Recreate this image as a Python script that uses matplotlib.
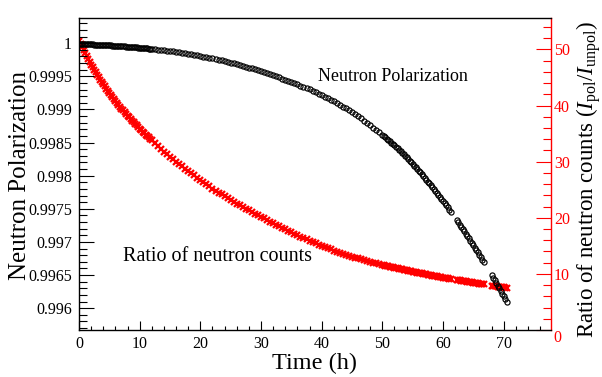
import numpy as np
import matplotlib
matplotlib.use("Agg")
from matplotlib import pyplot as plt
from matplotlib.ticker import MultipleLocator, FuncFormatter

plt.rcParams['font.family'] = 'Liberation Serif'
plt.rcParams['mathtext.fontset'] = 'custom'
plt.rcParams['mathtext.rm'] = 'Liberation Serif'
plt.rcParams['mathtext.it'] = 'Liberation Serif:italic'

nan = np.nan

# measurement times (h): 15 min early, 30 min in the middle, 15 min late
hours = np.concatenate([np.arange(0, 12, 0.25),
                        np.arange(12, 50, 0.5),
                        np.arange(50, 70.51, 0.25)])

# neutron polarization (left axis)
pol_early = [
    0.999990, 0.999989, 0.999988, 0.999987, 0.999986, 0.999985, 0.999984, 0.999983,
    0.999981, 0.999980, 0.999979, 0.999977, 0.999976, 0.999975, 0.999974, 0.999972,
    0.999971, 0.999970, 0.999969, 0.999967, 0.999966, 0.999965, 0.999963, 0.999962,
    0.999960, 0.999959, 0.999957, 0.999956, 0.999954, 0.999952, 0.999951, 0.999949,
    0.999947, 0.999945, 0.999944, 0.999942, 0.999940, 0.999938, 0.999936, 0.999934,
    0.999932, 0.999930, 0.999928, 0.999926, 0.999924, 0.999921, 0.999919, 0.999917,
]
pol_mid = [
    0.999914, 0.999909, 0.999904, 0.999899, 0.999893, 0.999887,
    0.999881, 0.999875, 0.999868, 0.999861, 0.999854, 0.999847, 0.999839, 0.999831, 0.999823, 0.999815,
    0.999806, 0.999798, 0.999789, 0.999780, 0.999770, 0.999760, 0.999750, 0.999740, 0.999729, 0.999718,
    0.999707, 0.999695, 0.999683, 0.999671, 0.999659, 0.999646, 0.999632, 0.999619, 0.999605, 0.999591,
    0.999576, 0.999561, 0.999546, 0.999531, 0.999515, 0.999499, 0.999483, 0.999466, 0.999449, 0.999432,
    0.999414, 0.999396, 0.999378, 0.999359, 0.999340, 0.999321, 0.999301, 0.999281, 0.999260, 0.999239,
    0.999217, 0.999194, 0.999171, 0.999147, 0.999122, 0.999096, 0.999070, 0.999043, 0.999015, 0.998986,
    0.998957, 0.998926, 0.998895, 0.998863, 0.998830, 0.998796, 0.998762, 0.998726, 0.998690, 0.998653,
]
pol_late = [
    0.998616, 0.998597, 0.998577, 0.998557, 0.998537, 0.998517, 0.998497, 0.998477,
    0.998456, 0.998434, 0.998412, 0.998390, 0.998367, 0.998345, 0.998322, 0.998299,
    0.998276, 0.998251, 0.998226, 0.998201, 0.998176, 0.998151, 0.998126, 0.998101,
    0.998076, 0.998049, 0.998021, 0.997994, 0.997966, 0.997939, 0.997911, 0.997884,
    0.997856, 0.997826, 0.997796, 0.997766, 0.997736, 0.997706, 0.997676, 0.997646,
    0.997616, 0.997584, 0.997552, 0.997520, 0.997488, 0.997457, nan, nan,
    nan, 0.997327, 0.997294, 0.997260, 0.997226, 0.997192, 0.997158, 0.997125,
    0.997091, 0.997055, 0.997020, 0.996984, 0.996948, 0.996913, 0.996877, 0.996842,
    0.996806, 0.996768, 0.996730, 0.996692, nan, nan, nan, nan,
    0.996501, 0.996460, 0.996420, 0.996379, 0.996338, 0.996298, 0.996257, 0.996217,
    0.996176, 0.996133, 0.996091,
]

# ratio of neutron counts I_pol / I_unpol (right axis)
ratio_early = [
    51.5, 50.92, 50.35, 49.81, 49.28, 48.77, 48.26, 47.78,
    47.3, 46.83, 46.37, 45.92, 45.48, 45.05, 44.62, 44.21,
    43.8, 43.4, 43.01, 42.63, 42.25, 41.88, 41.51, 41.15,
    40.8, 40.46, 40.12, 39.79, 39.46, 39.14, 38.82, 38.51,
    38.2, 37.9, 37.6, 37.31, 37.02, 36.73, 36.45, 36.17,
    35.9, 35.63, 35.36, 35.09, 34.83, 34.57, 34.31, 34.05,
]
ratio_mid = [
    33.8, 33.29, 32.79, 32.29, 31.8, 31.34,
    30.89, 30.44, 30.0, 29.58, 29.16, 28.75, 28.35, 27.95, 27.55, 27.15,
    26.75, 26.36, 25.97, 25.58, 25.2, 24.85, 24.5, 24.15, 23.8, 23.48,
    23.15, 22.83, 22.5, 22.2, 21.9, 21.6, 21.3, 21.01, 20.73, 20.44,
    20.15, 19.88, 19.6, 19.33, 19.05, 18.78, 18.5, 18.23, 17.95, 17.68,
    17.42, 17.15, 16.88, 16.63, 16.38, 16.13, 15.88, 15.66, 15.43, 15.21,
    14.98, 14.77, 14.57, 14.36, 14.15, 13.96, 13.78, 13.59, 13.4, 13.24,
    13.08, 12.91, 12.75, 12.6, 12.45, 12.3, 12.15, 12.01, 11.88, 11.74,
]
ratio_late = [
    11.6, 11.54, 11.48, 11.41, 11.35, 11.29, 11.23, 11.16,
    11.1, 11.04, 10.98, 10.92, 10.86, 10.8, 10.74, 10.68,
    10.62, 10.56, 10.51, 10.45, 10.4, 10.34, 10.28, 10.23,
    10.17, 10.12, 10.07, 10.01, 9.96, 9.91, 9.86, 9.8,
    9.75, 9.7, 9.65, 9.6, 9.55, 9.5, 9.45, 9.4,
    9.35, 9.3, 9.26, 9.21, 9.16, 9.11, nan, nan,
    nan, 8.92, 8.88, 8.83, 8.79, 8.74, 8.69, 8.65,
    8.6, 8.56, 8.51, 8.47, 8.43, 8.38, 8.34, 8.29,
    8.25, 8.21, 8.17, 8.12, nan, nan, nan, nan,
    7.91, 7.87, 7.83, 7.79, 7.75, 7.71, 7.67, 7.62,
    7.58, 7.54, 7.5,
]

polarization = np.array(pol_early + pol_mid + pol_late)
ratio = np.array(ratio_early + ratio_mid + ratio_late)

fig = plt.figure(figsize=(6.02, 3.77), dpi=100)
ax = fig.add_axes([79 / 602, 47 / 377, 472 / 602, 312 / 377])
ax2 = ax.twinx()
# polarization circles drawn over the red ratio markers
ax.set_zorder(2)
ax2.set_zorder(1)
ax.patch.set_visible(False)

ax2.plot(hours, ratio, ls='none', marker='x', ms=4.3, mec='red', mew=1.6)
ax.plot(hours, polarization, ls='none', marker='o', ms=3.7, mfc='none',
        mec='black', mew=0.85)

ax.set_xlim(0, 77.8)
ax.set_ylim(0.99567, 1.00038)
ax2.set_ylim(0, 55.6)

ax.xaxis.set_major_locator(MultipleLocator(10))
ax.xaxis.set_minor_locator(MultipleLocator(2))
ax.yaxis.set_major_locator(MultipleLocator(0.0005))
ax.yaxis.set_minor_locator(MultipleLocator(0.0001))
ax.yaxis.set_major_formatter(FuncFormatter(lambda v, p: ('%.4f' % v).rstrip('0').rstrip('.')))

ax.tick_params(axis='x', which='major', direction='in', length=6.5, width=0.8,
               top=False, labelsize=11.5, pad=4)
ax.tick_params(axis='x', which='minor', direction='in', length=3.2, width=0.8, top=False)
ax.tick_params(axis='y', which='major', direction='in', length=10.8, width=0.8,
               right=False, labelsize=11.5, pad=5)
ax.tick_params(axis='y', which='minor', direction='in', length=5.8, width=0.8, right=False)

ax2.set_yticks([0, 10, 20, 30, 40, 50])
ax2.yaxis.set_minor_locator(MultipleLocator(2))
ax2.tick_params(axis='y', which='major', direction='in', length=10.8, width=0.8,
                colors='red', labelsize=11.5, pad=2)
ax2.tick_params(axis='y', which='minor', direction='in', length=5.8, width=0.8, colors='red')
ax2.yaxis.get_major_ticks()[0].label2.set_va('top')

for s in ['left', 'bottom', 'top']:
    ax.spines[s].set_linewidth(1.0)
    ax2.spines[s].set_visible(False)
ax.spines['right'].set_visible(False)
ax2.spines['right'].set_color('red')
ax2.spines['right'].set_linewidth(1.0)

ax.text(0.506, 0.814, 'Neutron Polarization', transform=ax.transAxes,
        fontsize=13, ha='left', va='center')
ax.text(0.093, 0.237, 'Ratio of neutron counts', transform=ax.transAxes,
        fontsize=14.5, ha='left', va='center')

fig.text(20 / 602, 1 - 175 / 377, 'Neutron Polarization', rotation=90,
         ha='center', va='center', fontsize=18)
fig.text(589 / 602, 1 - 180 / 377,
         r'Ratio of neutron counts ($I_{\mathrm{pol}}/I_{\mathrm{unpol}}$)',
         rotation=90, ha='center', va='center', fontsize=16.5)
fig.text(315 / 602, 1 - 363 / 377, 'Time (h)', ha='center', va='center', fontsize=17.5)

fig.savefig('out.png', dpi=100)
